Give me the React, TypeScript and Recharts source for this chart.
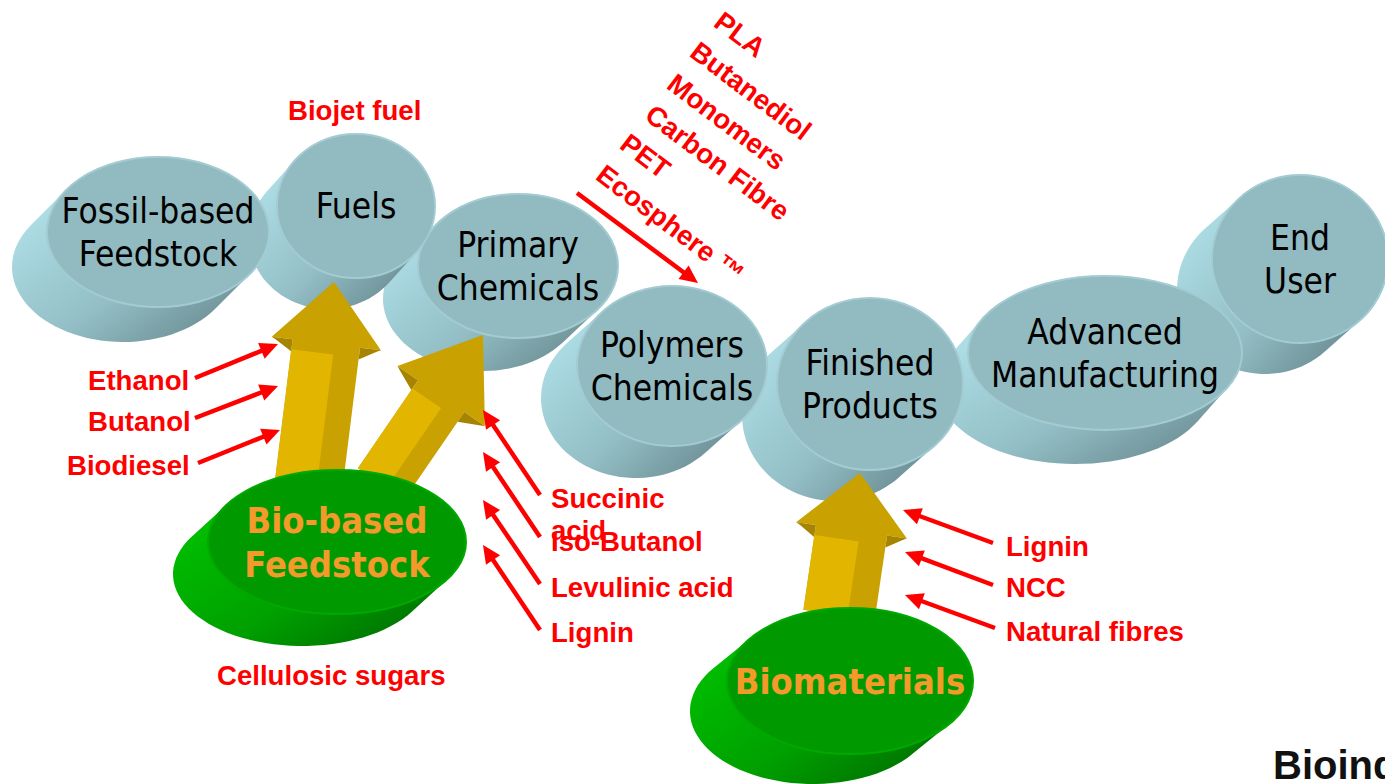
import React from 'react'
import { ScatterChart, Scatter, XAxis, YAxis } from 'recharts'

// value-chain stages (face centre of each disk)
const stageNames = [
  'Fossil-based\nFeedstock',
  'Fuels',
  'Primary\nChemicals',
  'Polymers\nChemicals',
  'Finished\nProducts',
  'Advanced\nManufacturing',
  'End\nUser',
]
const stageX = [158, 356, 518, 672, 870, 1105, 1300]
const stageY = [232, 206, 266, 366, 384, 353, 259]

// bio-based inputs
const feedNames = ['Bio-based\nFeedstock', 'Biomaterials']
const feedX = [337, 850]
const feedY = [542, 681]

// yellow flows: from feedstock to stage
const flowFrom = [
  { x: 309, y: 482 },
  { x: 381, y: 484 },
  { x: 839, y: 615 },
]
const flowTo = [
  { x: 334, y: 282 },
  { x: 483, y: 335 },
  { x: 860, y: 473 },
]

// red product labels
const fuelLabels = ['Biojet fuel', 'Ethanol', 'Butanol', 'Biodiesel']
const fuelLabelX = [288, 88, 88, 67]
const fuelLabelY = [110, 380, 421, 465]

const chemLabels = ['Succinic', 'acid', 'Iso-Butanol', 'Levulinic acid', 'Lignin', 'Cellulosic sugars']
const chemLabelX = [551, 551, 551, 551, 551, 217]
const chemLabelY = [498, 530, 541, 587, 632, 675]

const materialLabels = ['Lignin', 'NCC', 'Natural fibres']
const materialLabelX = [1006, 1006, 1006]
const materialLabelY = [546, 587, 631]

const polymerLabels = ['PLA', 'Butanediol', 'Monomers', 'Carbon Fibre', 'PET', 'Ecosphere \u2122']
const polymerLabelX = [718, 694, 671, 649, 624, 600]
const polymerLabelY = [18, 48, 80, 111, 140, 171]

// red pointer arrows (tail -> head)
const pointerFrom = [
  { x: 195, y: 378 }, { x: 195, y: 418 }, { x: 198, y: 463 },
  { x: 540, y: 495 }, { x: 540, y: 537 }, { x: 540, y: 584 }, { x: 540, y: 630 },
  { x: 993, y: 543 }, { x: 993, y: 585 }, { x: 995, y: 628 },
  { x: 577, y: 193 },
]
const pointerTo = [
  { x: 278, y: 344 }, { x: 278, y: 386 }, { x: 280, y: 430 },
  { x: 483, y: 410 }, { x: 483, y: 452 }, { x: 483, y: 500 }, { x: 483, y: 545 },
  { x: 903, y: 510 }, { x: 905, y: 552 }, { x: 905, y: 595 },
  { x: 698, y: 283 },
]

// ---- layout / styling ----
// rx, ry of the face, then the extrusion offset
const stageSize = [
  [111, 75, -35, 35],
  [79, 72, -28, 31],
  [100, 72, -35, 33],
  [95, 80, -36, 32],
  [93, 86, -35, 31],
  [137, 77, -30, 34],
  [88, 84, -35, 31],
]
const feedSize = [
  [129, 72, -35, 32],
  [123, 73, -37, 30],
]
const flowSize = [
  [68, 110, 62],
  [56, 106, 74],
  [72, 112, 58],
]

const BLUE = { face: '#91bac1', rim: '#a3cbd1', light: '#acdce4', mid: '#93bec5', dark: '#6c8e94' }
const GREEN = { face: '#009a00', rim: '#00a800', light: '#00bc00', mid: '#00a000', dark: '#007200' }
const RED = '#ff0000'
const LABEL_FONT = "'Liberation Sans', Arial, sans-serif"
const DISK_FONT = "'DejaVu Sans Condensed', 'DejaVu Sans', Verdana, sans-serif"

const stageData = stageNames
  .map((name, i) => ({ x: stageX[i], y: stageY[i], name, id: `s${i}`, size: stageSize[i], pal: BLUE }))
  .reverse()
const feedData = feedNames.map((name, i) => ({
  x: feedX[i], y: feedY[i], name, id: `f${i}`, size: feedSize[i], pal: GREEN,
}))

const toLabels = (texts: string[], xs: number[], ys: number[]) =>
  texts.map((text, i) => ({ x: xs[i], y: ys[i], text }))

function sidePath(cx: number, cy: number, rx: number, ry: number, dx: number, dy: number) {
  const t0 = Math.atan2(-ry * dx, rx * dy)
  const mid = t0 + Math.PI / 2
  const facing = (Math.cos(mid) / rx) * dx + (Math.sin(mid) / ry) * dy > 0
  const start = facing ? t0 : t0 + Math.PI
  const pts: number[][] = [[cx + rx * Math.cos(start), cy + ry * Math.sin(start)]]
  for (let i = 0; i <= 48; i++) {
    const t = start + (Math.PI * i) / 48
    pts.push([cx + dx + rx * Math.cos(t), cy + dy + ry * Math.sin(t)])
  }
  pts.push([cx + rx * Math.cos(start + Math.PI), cy + ry * Math.sin(start + Math.PI)])
  return 'M' + pts.map((p) => `${p[0].toFixed(1)},${p[1].toFixed(1)}`).join('L') + 'Z'
}

function Disk(props: any) {
  const { cx, cy, payload } = props
  const [rx, ry, dx, dy] = payload.size
  const pal = payload.pal
  const gid = `side-${payload.id}`
  const lines = payload.name.split('\n')
  const green = pal === GREEN
  const step = green ? 44 : 43
  return (
    <g>
      <defs>
        <linearGradient id={gid} x1="0" y1="0.3" x2="0.8" y2="1">
          <stop offset="0" stopColor={pal.light} />
          <stop offset="0.55" stopColor={pal.mid} />
          <stop offset="1" stopColor={pal.dark} />
        </linearGradient>
      </defs>
      <path d={sidePath(cx, cy, rx, ry, dx, dy)} fill={`url(#${gid})`} />
      <ellipse cx={cx} cy={cy} rx={rx} ry={ry} fill={pal.face} stroke={pal.rim} strokeWidth={2} />
      {lines.map((line: string, i: number) => (
        <text
          key={line}
          x={cx}
          y={cy + (i - (lines.length - 1) / 2) * step}
          textAnchor="middle"
          dominantBaseline="central"
          fontFamily={DISK_FONT}
          fontWeight={green ? 700 : 400}
          fontSize={green ? 36 : 35}
          fill={green ? '#f39a2b' : '#000'}
        >
          {line}
        </text>
      ))}
    </g>
  )
}

const pts = (list: number[][]) => list.map((p) => `${p[0].toFixed(1)},${p[1].toFixed(1)}`).join(' ')

const blockArrow = (sw: number, hw: number, hl: number) => (p: any) => {
  const [a, b] = p.points
  const len = Math.hypot(b.x - a.x, b.y - a.y)
  const ux = (b.x - a.x) / len
  const uy = (b.y - a.y) / len
  const nx = -uy
  const ny = ux
  const at = (along: number, side: number) => [a.x + ux * along + nx * side, a.y + uy * along + ny * side]
  const neck = len - hl
  const outline = [at(0, sw / 2), at(neck, sw / 2), at(neck, hw / 2), at(len, 0), at(neck, -hw / 2), at(neck, -sw / 2), at(0, -sw / 2)]
  const front = [at(0, -sw / 2), at(neck - 10, -sw / 2), at(neck - 10, sw * 0.12), at(0, sw * 0.12)]
  const leftUnder = [at(neck, -hw / 2), at(neck, -sw / 2), at(neck - 12, -sw / 2), at(neck - 2, -hw / 2 + 4)]
  const rightUnder = [at(neck, hw / 2), at(neck, sw / 2), at(neck - 12, sw / 2), at(neck - 2, hw / 2 - 4)]
  return (
    <g>
      <polygon points={pts(outline)} fill="#c9a100" />
      <polygon points={pts(front)} fill="#e2b600" />
      <polygon points={pts(leftUnder)} fill="#a68400" />
      <polygon points={pts(rightUnder)} fill="#a68400" />
    </g>
  )
}

const pointerArrow = (p: any) => {
  const [a, b] = p.points
  const len = Math.hypot(b.x - a.x, b.y - a.y)
  const ux = (b.x - a.x) / len
  const uy = (b.y - a.y) / len
  const head = 18
  const half = 8.5
  const bx = b.x - ux * head
  const by = b.y - uy * head
  return (
    <g>
      <line x1={a.x} y1={a.y} x2={bx + ux * 2} y2={by + uy * 2} stroke={RED} strokeWidth={4.5} />
      <polygon
        points={pts([[b.x, b.y], [bx - uy * half, by + ux * half], [bx + uy * half, by - ux * half]])}
        fill={RED}
      />
    </g>
  )
}

const Blank = () => <g />

const RedLabel = (props: any) => (
  <text
    x={props.cx}
    y={props.cy}
    dominantBaseline="central"
    fontFamily={LABEL_FONT}
    fontWeight={700}
    fontSize={27.6}
    fill={RED}
  >
    {props.payload.text}
  </text>
)

const RotatedLabel = (props: any) => (
  <text
    x={props.cx}
    y={props.cy}
    transform={`rotate(37 ${props.cx} ${props.cy})`}
    dominantBaseline="central"
    fontFamily={LABEL_FONT}
    fontWeight={700}
    fontSize={27.6}
    fill={RED}
  >
    {props.payload.text}
  </text>
)

const BrandLabel = (props: any) => (
  <text
    x={props.cx}
    y={props.cy}
    dominantBaseline="central"
    fontFamily={LABEL_FONT}
    fontWeight={700}
    fontSize={40}
    fill="#111"
  >
    {props.payload.text}
  </text>
)

export default function App() {
  return (
    <div style={{ position: 'absolute', left: 0, top: 0, width: 1385, height: 784, background: '#fff', overflow: 'hidden' }}>
      <ScatterChart width={1385} height={784} margin={{ top: 0, right: 0, bottom: 0, left: 0 }}>
        <XAxis type="number" dataKey="x" domain={[0, 1385]} hide />
        <YAxis type="number" dataKey="y" domain={[0, 784]} reversed hide />

        <Scatter data={stageData} shape={Disk} isAnimationActive={false} />

        {flowFrom.map((from, i) => (
          <Scatter
            key={`flow-${i}`}
            data={[from, flowTo[i]]}
            line={blockArrow(flowSize[i][0], flowSize[i][1], flowSize[i][2])}
            shape={Blank}
            isAnimationActive={false}
          />
        ))}

        <Scatter data={feedData} shape={Disk} isAnimationActive={false} />

        {pointerFrom.map((from, i) => (
          <Scatter
            key={`ptr-${i}`}
            data={[from, pointerTo[i]]}
            line={pointerArrow}
            shape={Blank}
            isAnimationActive={false}
          />
        ))}

        <Scatter data={toLabels(fuelLabels, fuelLabelX, fuelLabelY)} shape={RedLabel} isAnimationActive={false} />
        <Scatter data={toLabels(chemLabels, chemLabelX, chemLabelY)} shape={RedLabel} isAnimationActive={false} />
        <Scatter data={toLabels(materialLabels, materialLabelX, materialLabelY)} shape={RedLabel} isAnimationActive={false} />
        <Scatter data={toLabels(polymerLabels, polymerLabelX, polymerLabelY)} shape={RotatedLabel} isAnimationActive={false} />
        <Scatter data={[{ x: 1273, y: 765, text: 'Bioindustrial' }]} shape={BrandLabel} isAnimationActive={false} />
      </ScatterChart>
    </div>
  )
}
